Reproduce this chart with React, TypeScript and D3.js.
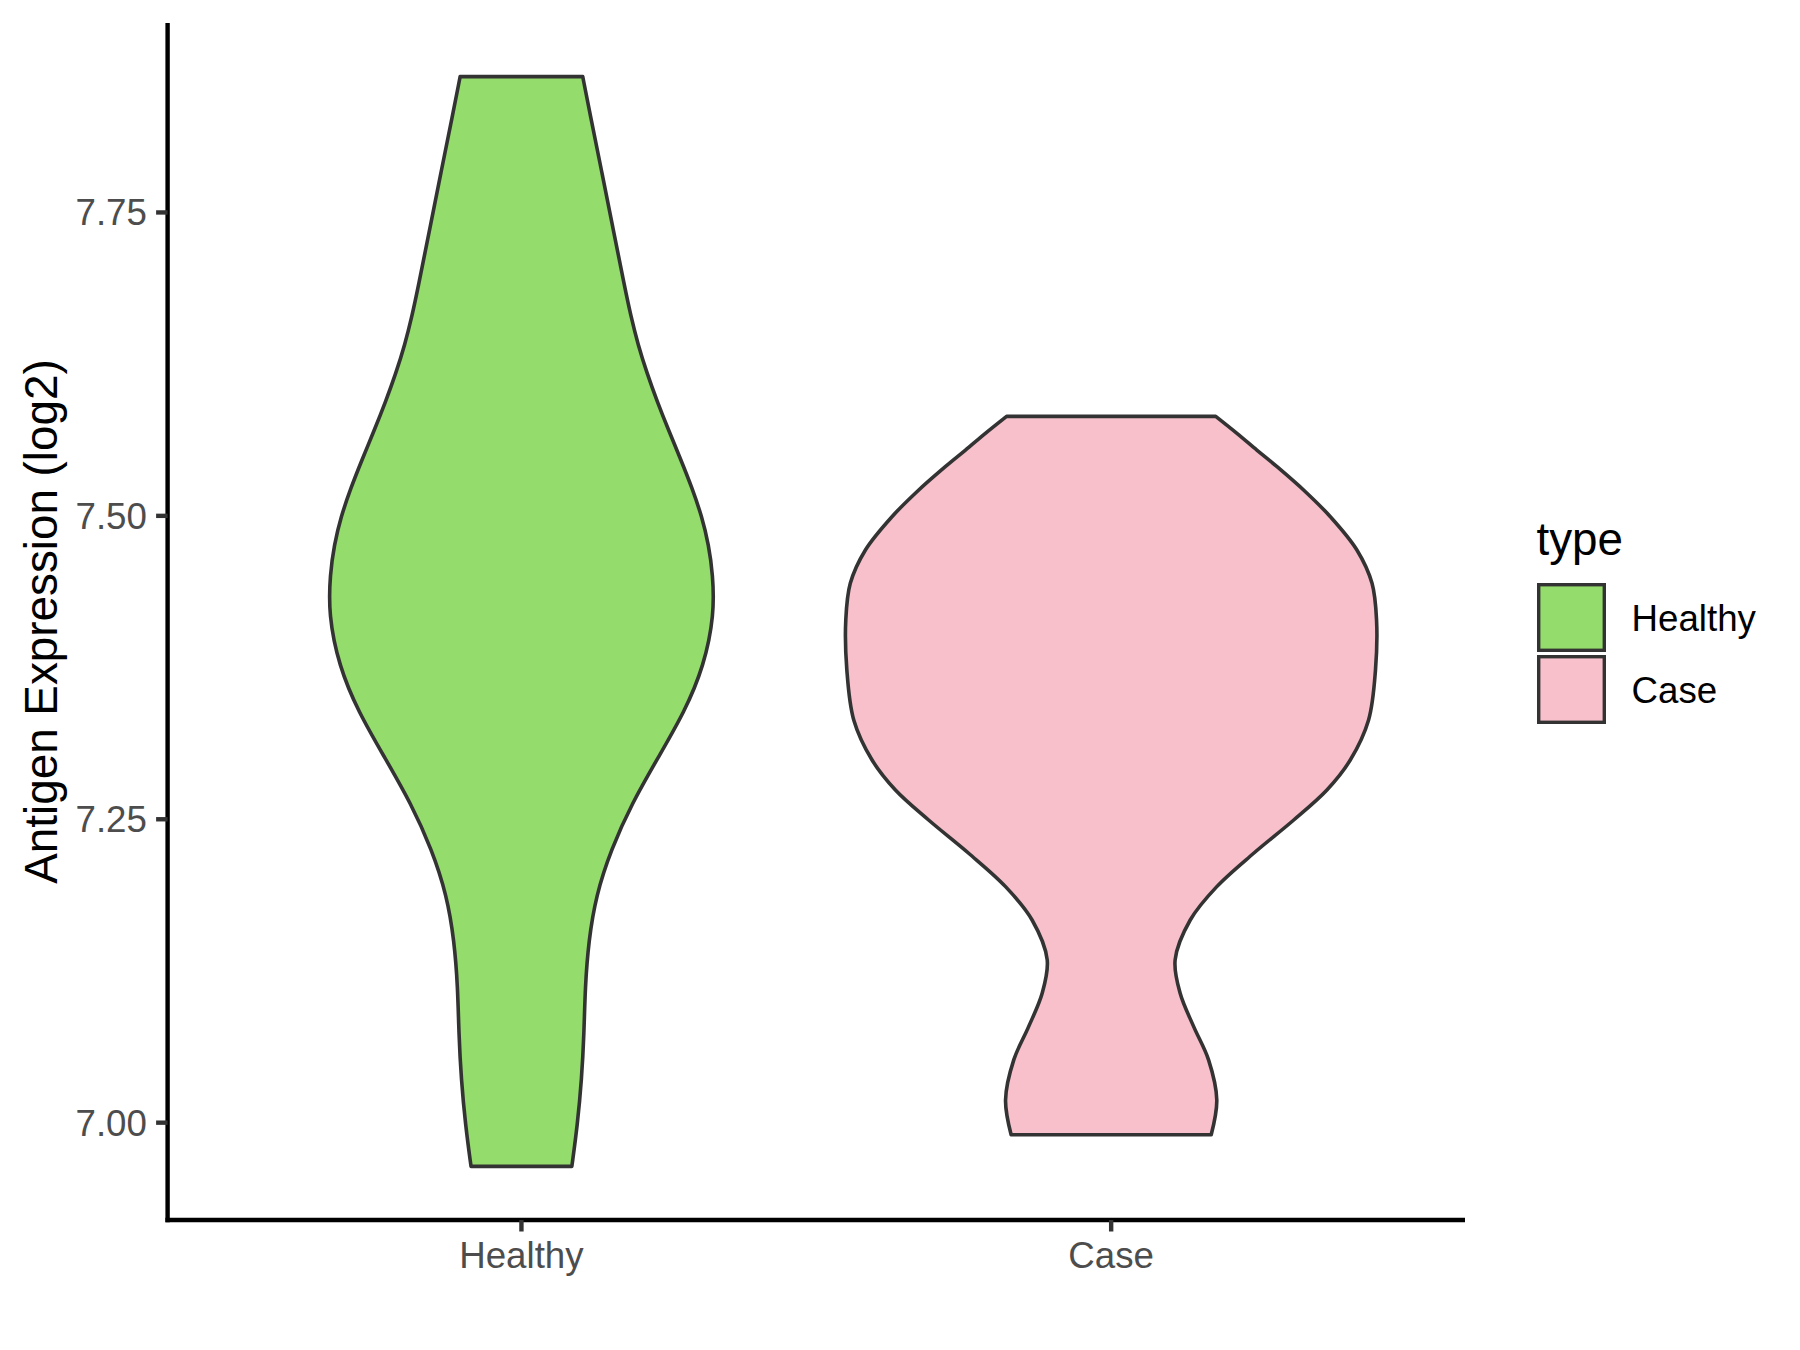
import React from "react";
import * as d3 from "d3";

// ---- data ----
const categories = ["Healthy", "Case"];
const yTickValues = [7.0, 7.25, 7.5, 7.75];
const yTickLabels = ["7.00", "7.25", "7.50", "7.75"];

// violin profiles: expression value and relative density (1 = widest violin)
const healthyValues = [7.8619, 7.8305, 7.7832, 7.7359, 7.6886, 7.6649, 7.6413, 7.6176, 7.594, 7.5703, 7.5467, 7.523, 7.4994, 7.4757, 7.4521, 7.419, 7.3764, 7.3386, 7.3008, 7.263, 7.2251, 7.1873, 7.1494, 7.1116, 7.0738, 7.0359, 6.9981, 6.964];
const healthyDensity = [0.231, 0.259, 0.303, 0.346, 0.389, 0.412, 0.439, 0.473, 0.512, 0.555, 0.6, 0.643, 0.68, 0.706, 0.721, 0.727, 0.688, 0.615, 0.515, 0.416, 0.338, 0.281, 0.253, 0.24, 0.236, 0.227, 0.211, 0.19];

const caseValues = [7.582, 7.568, 7.5542, 7.5405, 7.5199, 7.4993, 7.4719, 7.4444, 7.4142, 7.373, 7.3318, 7.2988, 7.2741, 7.2494, 7.222, 7.1945, 7.167, 7.1341, 7.1066, 7.0791, 7.0517, 7.0187, 6.99];
const caseDensity = [0.394, 0.474, 0.549, 0.625, 0.732, 0.826, 0.926, 0.983, 1.0, 0.996, 0.97, 0.901, 0.813, 0.688, 0.537, 0.398, 0.298, 0.241, 0.26, 0.311, 0.367, 0.398, 0.377];

const seriesValues = [healthyValues, caseValues];
const seriesDensity = [healthyDensity, caseDensity];
const fillColors = ["#94DC6B", "#F7C0CB"];

// ---- layout ----
const W = 1800;
const H = 1350;
const panel = { left: 167.6, right: 1465, top: 23, bottom: 1220 };
const FONT = "'Liberation Sans', Arial, Helvetica, sans-serif";

export default function App() {
  const y = d3.scaleLinear().domain([6.9198, 7.9061]).range([panel.bottom, panel.top]);
  const x = d3.scalePoint<string>().domain(categories).range([panel.left, panel.right]).padding(0.6);
  const step = x.step();
  const maxHalf = 0.45 * step;

  const violins = categories.map((cat, i) => {
    const cx = x(cat) as number;
    const pts = seriesValues[i].map((v, j) => ({ v, d: seriesDensity[i][j] }));
    const area = d3
      .area<{ v: number; d: number }>()
      .y((p) => y(p.v))
      .x0((p) => cx - p.d * maxHalf)
      .x1((p) => cx + p.d * maxHalf)
      .curve(i === 0 ? d3.curveBasis : d3.curveCatmullRom.alpha(0.5));
    return { cat, path: area(pts) as string, fill: fillColors[i] };
  });

  const tickLen = 11.5;
  const axisW = 4.4;

  return (
    <svg
      width={W}
      height={H}
      viewBox={`0 0 ${W} ${H}`}
      style={{ position: "absolute", left: 0, top: 0, background: "#fff" }}
    >
      <rect x={0} y={0} width={W} height={H} fill="#fff" />
      {violins.map((vl) => (
        <path
          key={vl.cat}
          d={vl.path}
          fill={vl.fill}
          stroke="#333333"
          strokeWidth={3.6}
          strokeLinejoin="round"
        />
      ))}

      {/* axes */}
      <line x1={panel.left} x2={panel.left} y1={panel.top} y2={panel.bottom + axisW / 2} stroke="#000" strokeWidth={axisW} />
      <line x1={panel.left - axisW / 2} x2={panel.right} y1={panel.bottom} y2={panel.bottom} stroke="#000" strokeWidth={axisW} />

      {yTickValues.map((v, i) => (
        <g key={"yt" + i}>
          <line x1={panel.left - tickLen} x2={panel.left} y1={y(v)} y2={y(v)} stroke="#333333" strokeWidth={axisW} />
          <text
            x={panel.left - tickLen - 9.2}
            y={y(v) + 13}
            textAnchor="end"
            fontFamily={FONT}
            fontSize={36.7}
            fill="#4D4D4D"
          >
            {yTickLabels[i]}
          </text>
        </g>
      ))}

      {categories.map((c) => (
        <g key={"xt" + c}>
          <line x1={x(c)} x2={x(c)} y1={panel.bottom} y2={panel.bottom + tickLen} stroke="#333333" strokeWidth={axisW} />
          <text x={x(c)} y={1268} textAnchor="middle" fontFamily={FONT} fontSize={36.7} fill="#4D4D4D">
            {c}
          </text>
        </g>
      ))}

      <text
        transform={`translate(57.4, ${(panel.top + panel.bottom) / 2}) rotate(-90)`}
        textAnchor="middle"
        fontFamily={FONT}
        fontSize={45.8}
        fill="#000"
      >
        Antigen Expression (log2)
      </text>

      {/* legend */}
      <text x={1536.5} y={554.5} fontFamily={FONT} fontSize={45.8} fill="#000">
        type
      </text>
      {categories.map((c, i) => {
        const ky = 584.7 + i * 72;
        return (
          <g key={"lg" + c}>
            <rect x={1538.7} y={ky} width={65.6} height={65.6} fill={fillColors[i]} stroke="#333333" strokeWidth={3.4} />
            <text x={1631.5} y={ky + 32.8 + 13} fontFamily={FONT} fontSize={36.7} fill="#000">
              {c}
            </text>
          </g>
        );
      })}
    </svg>
  );
}
